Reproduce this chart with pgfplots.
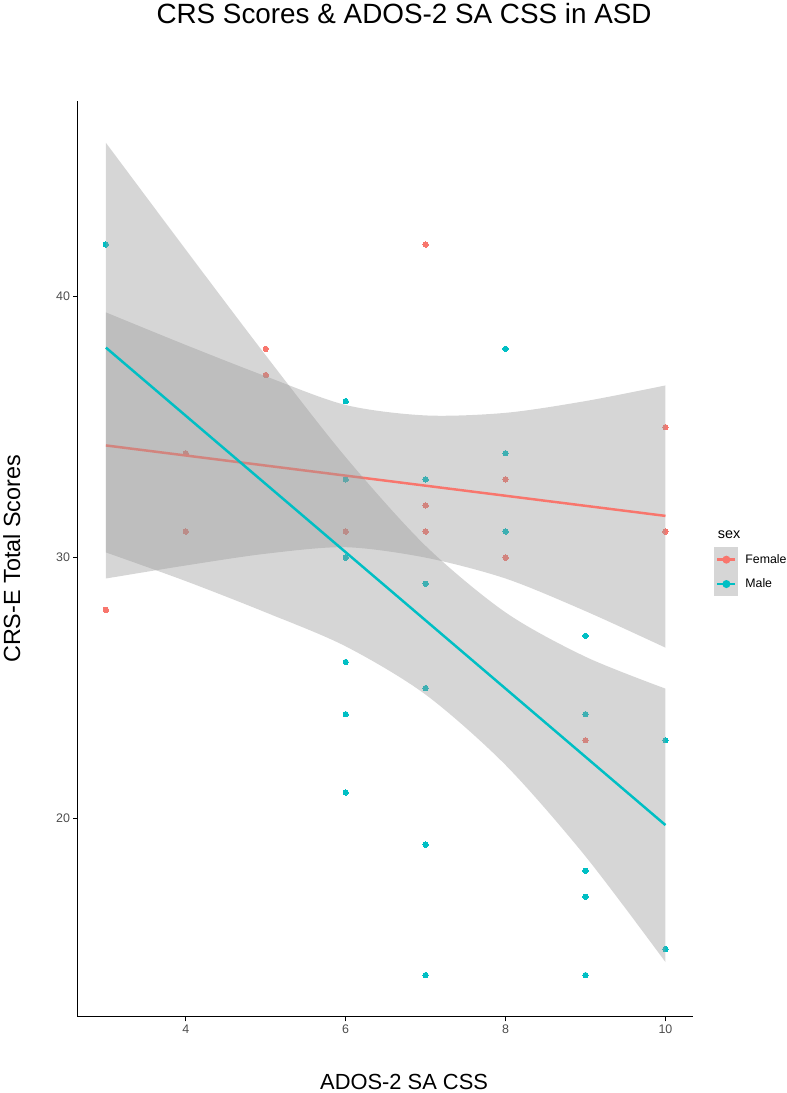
\documentclass[border=0pt]{standalone}
\usepackage{fontspec}
\setmainfont{Liberation Sans}
\usepackage{pgfplots}
\pgfplotsset{compat=1.18}
\usepgfplotslibrary{fillbetween}
\tikzset{fill between/on layer=main}
\definecolor{femcol}{HTML}{F8766D}
\definecolor{malecol}{HTML}{00BFC4}
\definecolor{ribcol}{HTML}{999999}
\definecolor{legfill}{HTML}{D6D6D6}
\definecolor{ticklab}{HTML}{4D4D4D}
\begin{document}
\begin{tikzpicture}
\path (0,0) rectangle (787bp,1093bp);
\begin{axis}[
  at={(76bp,75bp)}, anchor=south west,
  width=619bp, height=921bp, scale only axis,
  xmin=2.65, xmax=10.35, ymin=12.4, ymax=47.5,
  axis x line*=bottom, axis y line*=left,
  axis line style={line width=1.1bp, black},
  xtick={4,6,8,10}, ytick={20,30,40},
  tick align=outside, major tick length=4.5bp,
  tick style={line width=1.1bp, black},
  ticklabel style={font=\fontsize{12.5bp}{13bp}\selectfont, text=ticklab},
  /pgf/number format/assume math mode=true,
  title={CRS Scores \& ADOS-2 SA CSS in ASD},
  title style={at={(0.5299,1.0782)}, anchor=base, font=\fontsize{28bp}{30bp}\selectfont},
  xlabel={ADOS-2 SA CSS},
  xlabel style={at={(0.5299,-0.0793)}, anchor=base, font=\fontsize{22bp}{24bp}\selectfont},
  ylabel={CRS-E Total Scores},
  ylabel style={at={(-0.0937,0.5)}, anchor=base, font=\fontsize{23.5bp}{25bp}\selectfont},
  clip marker paths=true,
  legend cell align=left,
  legend image code/.code={
    \fill[legfill] (0bp,-11bp) rectangle (21.7bp,11bp);
    \draw[#1] (1.7bp,0bp) -- (20bp,0bp);
    \fill[#1] (10.85bp,0bp) circle[radius=2.7bp];
  },
  legend style={at={(1.034,0.5125)}, anchor=north west, draw=none, fill=none,
    inner sep=0pt, outer sep=0pt, row sep=0pt, column sep=7bp,
    font=\fontsize{12.4bp}{13bp}\selectfont, text=black,
    nodes={inner sep=0pt}},
]
% points (drawn first; ribbons cover them)
\addplot[forget plot, only marks, mark=*, mark size=2.7bp,
  mark options={draw=femcol, fill=femcol, line width=0pt}] coordinates {
  (3,28) (4,34) (4,31) (5,38) (5,37) (6,31) (7,42) (7,32) (7,31)
  (8,33) (8,30) (9,23) (10,35) (10,31)};
\addplot[forget plot, only marks, mark=*, mark size=2.7bp,
  mark options={draw=malecol, fill=malecol, line width=0pt}] coordinates {
  (3,42) (6,36) (6,33) (6,30) (6,26) (6,24) (6,21)
  (7,33) (7,29) (7,25) (7,19) (7,14)
  (8,38) (8,34) (8,31)
  (9,27) (9,24) (9,18) (9,17) (9,14)
  (10,23) (10,15)};
% female ribbon and line
\addplot[forget plot, draw=none, smooth, name path=fu] coordinates {
  (3,39.4) (4,38.15) (5,36.95) (6,35.85) (7,35.45) (8,35.55) (9,36.0) (10,36.6)};
\addplot[forget plot, draw=none, smooth, name path=fl] coordinates {
  (3,29.2) (4,29.7) (5,30.15) (6,30.4) (7,30.0) (8,29.2) (9,27.95) (10,26.55)};
\addplot[forget plot, fill=ribcol, fill opacity=0.4, draw=none] fill between[of=fu and fl];
\addplot[forget plot, femcol, line width=2.5bp] coordinates {(3,34.3) (10,31.6)};
% male ribbon and line
\addplot[forget plot, draw=none, smooth, name path=mu] coordinates {
  (3,45.9) (4,41.8) (5,37.75) (6,33.85) (7,30.45) (8,27.9) (9,26.2) (10,24.98)};
\addplot[forget plot, draw=none, smooth, name path=ml] coordinates {
  (3,30.2) (4,29.1) (5,27.9) (6,26.6) (7,24.75) (8,22.05) (9,18.55) (10,14.5)};
\addplot[forget plot, fill=ribcol, fill opacity=0.4, draw=none] fill between[of=mu and ml];
\addplot[forget plot, malecol, line width=2.5bp] coordinates {(3,38.05) (10,19.75)};
% legend
\addlegendimage{color=femcol, line width=2.5bp}
\addlegendentry{Female}
\addlegendimage{color=malecol, line width=2.5bp}
\addlegendentry{Male}
\end{axis}
\node[anchor=base west, font=\fontsize{14.5bp}{15bp}\selectfont] at (716bp,556.3bp) {sex};
\end{tikzpicture}
\end{document}
